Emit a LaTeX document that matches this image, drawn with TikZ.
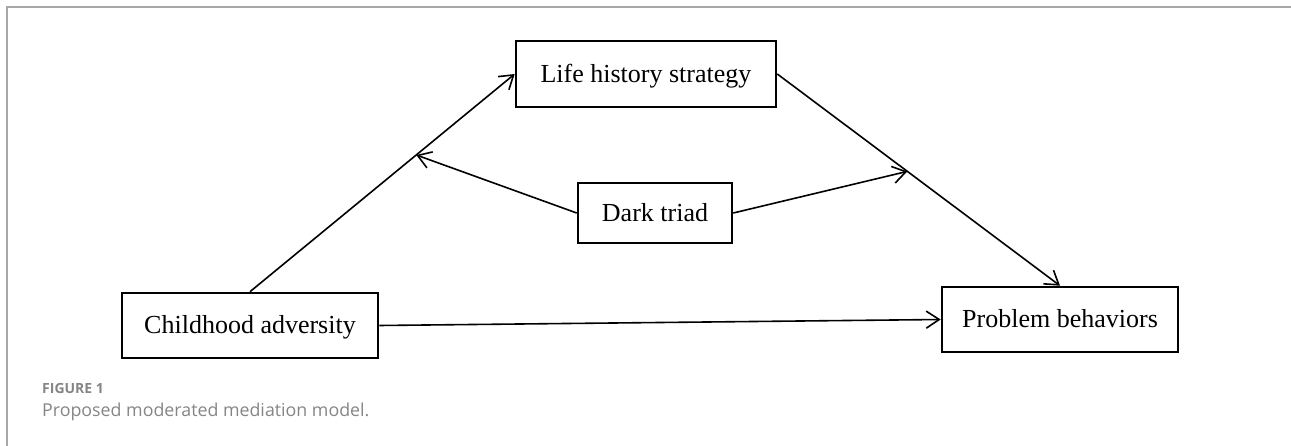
\documentclass[tikz,border=0pt]{standalone}
\usepackage{fontspec}
\setmainfont{Liberation Serif}
\newfontfamily\capfont{Open Sans}
\usetikzlibrary{arrows.meta}
\definecolor{framegray}{HTML}{A8A8A8}
\definecolor{capgray}{HTML}{858585}
\begin{document}
\begin{tikzpicture}[x=1pt,y=-1pt,
  varbox/.style={draw, line width=2.6pt, fill=white, inner sep=0pt,
    font=\fontsize{26}{30}\selectfont, text height=17pt, text depth=0pt},
  conn/.style={line width=1.6pt, -{Straight Barb[length=13pt,width=17pt,line width=1.6pt]}},
  plain/.style={line width=1.6pt}
]
\useasboundingbox (0,0) rectangle (1291,446);
% frame
\draw[framegray, line width=2pt] (7,446) -- (7,7) -- (1291,7);
% nodes
\node[varbox, minimum width=260pt, minimum height=66pt] (lhs) at (646,74) {Life history strategy};
\node[varbox, minimum width=154pt, minimum height=60pt] (dt) at (655,213) {Dark triad};
\node[varbox, minimum width=256pt, minimum height=65pt] (ca) at (250,325.5) {Childhood adversity};
\node[varbox, minimum width=236pt, minimum height=65pt] (pb) at (1060,319.5) {Problem behaviors};
% paths
\draw[conn] (ca.north) -- coordinate[pos=0.628] (m1) (lhs.west);
\draw[conn] (lhs.east) -- coordinate[pos=0.46] (m2) (pb.north);
\draw[conn] (ca.east) -- (pb.west);
\draw[conn] (dt.west) -- (m1);
\draw[conn] (dt.east) -- (m2);
% caption
\node[anchor=base west, inner sep=0pt, text=capgray, font=\capfont\bfseries\fontsize{14}{16}\selectfont] (figlab) at (42,393) {FIGURE 1};
\node[anchor=base west, inner sep=0pt, text=capgray, font=\capfont\fontsize{17.8}{20}\selectfont] (figcap) at (42,416) {Proposed moderated mediation model.};
\end{tikzpicture}
\end{document}
